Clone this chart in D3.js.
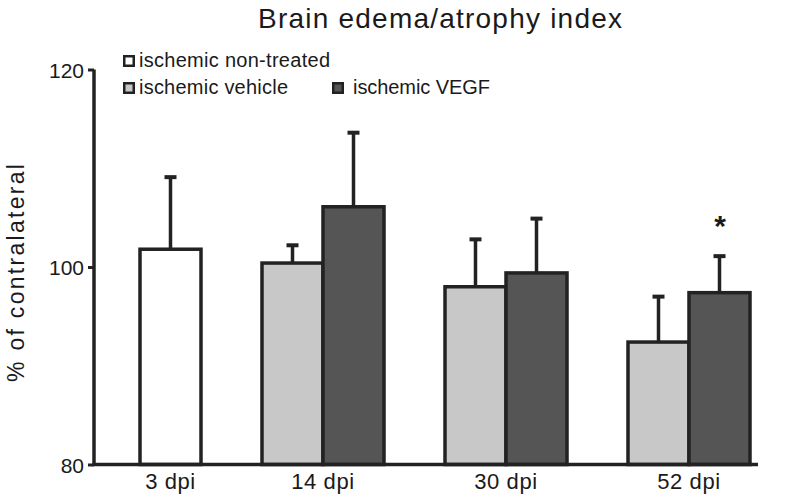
<!DOCTYPE html>
<html>
<head>
<meta charset="utf-8">
<script src="https://cdn.jsdelivr.net/npm/d3@7"></script>
<style>
  html, body { margin: 0; padding: 0; background: #fff; }
  text { font-family: "Liberation Sans", Arial, Helvetica, sans-serif; fill: #1a1a1a; }
</style>
</head>
<body>
<svg id="chart" width="800" height="500"></svg>
<script>
// ---- data ----
const categories = ["3 dpi", "14 dpi", "30 dpi", "52 dpi"];
const seriesNames = ["ischemic non-treated", "ischemic vehicle", "ischemic VEGF"];
const seriesColors = ["#ffffff", "#c8c8c8", "#555555"];
// values per category, per series (null = not measured)
const nonTreated = [101.8, null, null, null];
const vehicle    = [null, 100.4, 98.0, 92.4];
const vegf       = [null, 106.1, 99.4, 97.4];
// upper error bar ends
const nonTreatedErr = [109.1, null, null, null];
const vehicleErr    = [null, 102.2, 102.8, 97.0];
const vegfErr       = [null, 113.6, 104.9, 101.1];
const significant   = [false, false, false, true]; // * over VEGF
const yTicks = [80, 100, 120];
const title = "Brain edema/atrophy index";
const yTitle = "% of contralateral";

// ---- build bars ----
const valuesBySeries = [nonTreated, vehicle, vegf];
const errBySeries = [nonTreatedErr, vehicleErr, vegfErr];
const bars = [];
const slots = [];
categories.forEach((c, ci) => {
  seriesNames.forEach((s, si) => {
    const v = valuesBySeries[si][ci];
    if (v != null) {
      const key = c + "|" + s;
      slots.push(key);
      bars.push({cat: c, ci, si, key, value: v, err: errBySeries[si][ci], star: significant[ci] && si === 2});
    }
  });
  if (ci < categories.length - 1) slots.push("gap" + ci);
});

const svg = d3.select("#chart");
const y = d3.scaleLinear().domain([80, 120]).range([464.5, 69.5]);
const x = d3.scaleBand().domain(slots).range([140, 750]).padding(0);

// title
svg.append("text").attr("x", 440).attr("y", 27.5).attr("text-anchor", "middle")
  .attr("textLength", 364).attr("lengthAdjust", "spacing")
  .style("font-size", "28px").text(title);

// y title
svg.append("text").attr("transform", "translate(24,273) rotate(-90)")
  .attr("text-anchor", "middle").attr("textLength", 218).attr("lengthAdjust", "spacing")
  .style("font-size", "23px").text(yTitle);

// bars
const g = svg.append("g");
g.selectAll("rect.bar").data(bars).enter().append("rect")
  .attr("class", "bar")
  .attr("x", d => x(d.key))
  .attr("width", x.bandwidth())
  .attr("y", d => y(d.value))
  .attr("height", d => y(80) - y(d.value))
  .attr("fill", d => seriesColors[d.si])
  .attr("stroke", "#222").attr("stroke-width", 3.5);

// error bars
const eb = g.selectAll("g.err").data(bars).enter().append("g").attr("class", "err");
eb.append("line")
  .attr("x1", d => x(d.key) + x.bandwidth() / 2).attr("x2", d => x(d.key) + x.bandwidth() / 2)
  .attr("y1", d => y(d.value)).attr("y2", d => y(d.err))
  .attr("stroke", "#222").attr("stroke-width", 3.5);
eb.append("line")
  .attr("x1", d => x(d.key) + x.bandwidth() / 2 - 6).attr("x2", d => x(d.key) + x.bandwidth() / 2 + 6)
  .attr("y1", d => y(d.err)).attr("y2", d => y(d.err))
  .attr("stroke", "#222").attr("stroke-width", 4);

// star
g.selectAll("text.star").data(bars.filter(d => d.star)).enter().append("text")
  .attr("class", "star")
  .attr("x", d => x(d.key) + x.bandwidth() / 2 + 0.5)
  .attr("y", d => y(d.err) - 20)
  .attr("text-anchor", "middle").style("font-size", "30px").style("font-weight", "bold").text("*");

// y axis
const yAxis = svg.append("g").attr("transform", "translate(94,0)")
  .call(d3.axisLeft(y).tickValues(yTicks).tickSize(6).tickPadding(4));
yAxis.select(".domain").attr("stroke", "#222").attr("stroke-width", 3.5)
  .attr("d", `M0,${y(120)}V${y(80)}`);
yAxis.selectAll(".tick line").attr("stroke", "#222").attr("stroke-width", 3);
yAxis.selectAll(".tick text").style("font-size", "21px").attr("fill", "#1a1a1a")
  .attr("dy", "0.36em");

// x axis
const catCenter = c => {
  const bs = bars.filter(b => b.cat === c);
  const x0 = d3.min(bs, b => x(b.key)), x1 = d3.max(bs, b => x(b.key) + x.bandwidth());
  return (x0 + x1) / 2;
};
svg.append("line").attr("x1", 92.5).attr("x2", 758).attr("y1", y(80)).attr("y2", y(80))
  .attr("stroke", "#222").attr("stroke-width", 3.5);
svg.selectAll("text.xlab").data(categories).enter().append("text")
  .attr("class", "xlab")
  .attr("x", d => catCenter(d)).attr("y", 489)
  .attr("text-anchor", "middle").style("font-size", "22px").style("letter-spacing", "0.6px").text(d => d);

// legend
const legendItems = [
  {name: seriesNames[0], color: seriesColors[0], lx: 123, ly: 55, tx: 16, w: 191},
  {name: seriesNames[1], color: seriesColors[1], lx: 123, ly: 82, tx: 16, w: 149},
  {name: seriesNames[2], color: seriesColors[2], lx: 332, ly: 82, tx: 21, w: 137}
];
const lg = svg.append("g");
legendItems.forEach(it => {
  lg.append("rect").attr("x", it.lx + 1.25).attr("y", it.ly + 1.25).attr("width", 9.5).attr("height", 9.5)
    .attr("fill", it.color).attr("stroke", "#222").attr("stroke-width", 2.5);
  lg.append("text").attr("x", it.lx + it.tx).attr("y", it.ly + 12)
    .attr("textLength", it.w).attr("lengthAdjust", "spacing")
    .style("font-size", "20px").text(it.name);
});
</script>
</body>
</html>
